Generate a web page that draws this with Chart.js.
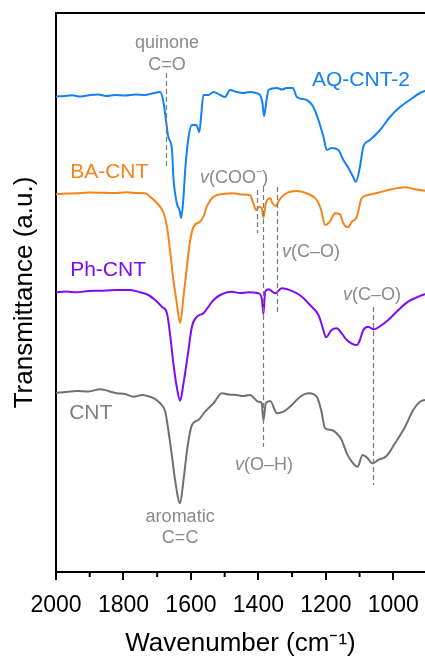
<!DOCTYPE html>
<html>
<head>
<meta charset="utf-8">
<script src="https://cdn.jsdelivr.net/npm/chart.js@4.4.0/dist/chart.umd.min.js"></script>
<style>
html,body{margin:0;padding:0;background:#fff;overflow:hidden}
canvas{display:block}
</style>
</head>
<body>
<canvas id="ftir" width="425" height="662"></canvas>
<script>
// FTIR spectra, offset traces. wavenumber (cm-1) / transmittance (a.u.)
const aqWn = [2000,1975,1952,1928,1898,1875,1851,1824,1795,1765,1736,1715,1691,1681,1673,1667,1656,1652,1642,1634,1629,1622,1617,1607,1597,1584,1575,1570,1563,1548,1533,1513,1499,1484,1464,1445,1425,1407,1395,1388,1383,1377,1370,1345,1330,1316,1298,1286,1257,1237,1222,1207,1197,1183,1163,1148,1133,1119,1111,1099,1089,1069,1039,1010,980,951,921,906,880,800];
const aqT = [475.5,476,476.7,475.5,477,477.5,476,477,476.5,477.5,477,478.5,480,469,449,435,422,395,369,362,354,375,402,435,447,447,440,455,477,477,480,477,475,482,480,479,480,479,477,469,456,469,482,484,482.5,484,484,475,472,465,452,435,422,424,422,412,404,395,390,405,425,432,442,455,465,472,479,481,483,486];

const baWn = [2000,1970,1938,1904,1869,1830,1790,1759,1736,1721,1701,1681,1671,1661,1652,1642,1632,1622,1612,1602,1592,1573,1563,1553,1533,1504,1474,1448,1425,1415,1407,1398,1390,1385,1378,1365,1358,1348,1338,1321,1286,1252,1227,1214,1202,1188,1173,1158,1148,1135,1123,1108,1094,1074,1045,1005,965,936,906,880,800];
const baT = [377.7,378.5,378.7,379.5,379.3,379,379.7,379,378.7,375.3,369,359,345.3,319,292,269,249,275.3,305.3,332,345.3,350.3,355.3,365.3,375.3,378,378.7,377.5,377,368.7,362,365.3,363.7,354.3,368.7,373.7,368.7,366,372,378,381,378,372,362,347,350.3,358.7,357.7,348.7,344.7,350.3,355.3,373.7,377,379.3,382.7,384.7,382.7,381.3,381,382];

const phWn = [2000,1970,1938,1904,1869,1824,1780,1750,1726,1706,1686,1671,1661,1652,1642,1632,1622,1610,1597,1582,1563,1548,1533,1513,1479,1454,1430,1400,1390,1385,1380,1370,1350,1331,1296,1271,1247,1222,1210,1200,1183,1168,1153,1138,1108,1099,1089,1074,1059,1034,1015,985,956,926,906,880,800];
const phT = [279.7,280.5,279.7,281,281.3,282,282,279.7,277,272,265.3,258.7,235.3,208.7,185.3,171.3,188.7,215.3,245.3,255.3,258.7,265.3,272,277,280.3,279,279.7,278.7,273.7,258,280.3,282.7,278.7,283.7,280.3,275.3,267,257,245.3,234.7,242,243.7,238.7,232,227,232,242,245.3,242.7,247,252,262,270.3,275.3,277.7,279,281];

const cntWn = [2000,1970,1938,1904,1869,1845,1820,1795,1770,1744,1721,1706,1691,1676,1667,1656,1647,1632,1622,1610,1597,1578,1558,1533,1508,1487,1464,1445,1425,1400,1390,1385,1378,1365,1345,1326,1301,1276,1250,1227,1214,1202,1183,1168,1153,1138,1123,1106,1091,1079,1061,1045,1020,995,965,941,921,906,880,800];
const cntT = [179.3,180,181,180.5,182.7,181,178.7,178,175.3,177,175.3,173,168.7,160.3,142,115.3,92,68.7,92,125.3,147,152,160.3,168.7,178.7,177.5,177,176,177,170.3,168.7,151.3,168.7,171,158.7,160.3,167,175.3,178.7,175.3,162,143.7,142,138.7,132,118.7,110.3,105.3,117,114.7,108.7,112,116,128.7,145.3,162,170.3,172,174,177];

const seriesNames = ['AQ-CNT-2', 'BA-CNT', 'Ph-CNT', 'CNT'];
const seriesColors = ['#1480F5', '#F8831A', '#7F0AF5', '#707070'];
const labelColors = ['#1480F5', '#F8831A', '#7F0AF5', '#808080'];
const labelWn = [1241, 1958, 1958, 1961];
const labelT = [492, 400, 302, 159];

const xTicks = [2000, 1800, 1600, 1400, 1200, 1000];
const minorTicks = [1900, 1700, 1500, 1300, 1100];

// peak assignments
const notes = [
  {wn: 1671, t: 529, parts: [['quinone', '']], align: 'center'},
  {wn: 1671, t: 507, parts: [['C=O', '']], align: 'center'},
  {wn: 1472, t: 394, parts: [['v', 'i'], ['(COO', ''], ['−', 'sup'], [')', '']], align: 'center'},
  {wn: 1330, t: 320, parts: [['v', 'i'], ['(C–O)', '']], align: 'left'},
  {wn: 1149, t: 277, parts: [['v', 'i'], ['(C–O)', '']], align: 'left'},
  {wn: 1469, t: 107, parts: [['v', 'i'], ['(O–H)', '']], align: 'left'},
  {wn: 1632, t: 55, parts: [['aromatic', '']], align: 'center'},
  {wn: 1632, t: 34, parts: [['C=C', '']], align: 'center'}
];
const guides = [
  {wn: 1674, from: 499, to: 405},
  {wn: 1405, from: 382, to: 339},
  {wn: 1385, from: 385, to: 125},
  {wn: 1345, from: 385, to: 260},
  {wn: 1061, from: 265, to: 87}
];

const FAM = "'Liberation Sans', Arial, Helvetica, sans-serif";
Chart.defaults.font.family = FAM;

const pairs = (xs, ys) => xs.map((v, i) => ({x: v, y: ys[i]}));
const traces = [pairs(aqWn, aqT), pairs(baWn, baT), pairs(phWn, phT), pairs(cntWn, cntT)];

function drawRich(ctx, x, y, parts, size, color, align) {
  const fontOf = st => st === 'i' ? `italic ${size}px ${FAM}` : st === 'sup' ? `${Math.round(size * 0.6)}px ${FAM}` : `${size}px ${FAM}`;
  let w = 0;
  parts.forEach(([t, st]) => { ctx.font = fontOf(st); w += ctx.measureText(t).width; });
  let cx = align === 'center' ? x - w / 2 : x;
  ctx.fillStyle = color;
  ctx.textBaseline = 'middle';
  ctx.textAlign = 'left';
  parts.forEach(([t, st]) => {
    ctx.font = fontOf(st);
    ctx.fillText(t, cx, st === 'sup' ? y - size * 0.35 : y);
    cx += ctx.measureText(t).width;
  });
}

const decor = {
  id: 'decor',
  afterDraw(chart) {
    const {ctx, chartArea: a, scales: {x, y}} = chart;
    ctx.save();
    ctx.strokeStyle = '#000';
    ctx.lineWidth = 2;
    ctx.beginPath();
    ctx.moveTo(a.left - 1, a.top);
    ctx.lineTo(a.right, a.top);
    ctx.stroke();
    minorTicks.forEach(v => {
      const px = x.getPixelForValue(v);
      ctx.beginPath();
      ctx.moveTo(px, a.bottom);
      ctx.lineTo(px, a.bottom + 5);
      ctx.stroke();
    });

    ctx.strokeStyle = '#7a7a7a';
    ctx.lineWidth = 1.2;
    ctx.setLineDash([5, 3]);
    guides.forEach(g => {
      const px = Math.round(x.getPixelForValue(g.wn)) + 0.5;
      ctx.beginPath();
      ctx.moveTo(px, y.getPixelForValue(g.from));
      ctx.lineTo(px, y.getPixelForValue(g.to));
      ctx.stroke();
    });
    ctx.setLineDash([]);

    notes.forEach(n => drawRich(ctx, x.getPixelForValue(n.wn), y.getPixelForValue(n.t), n.parts, 18, '#8a8a8a', n.align));
    seriesNames.forEach((s, i) => drawRich(ctx, x.getPixelForValue(labelWn[i]), y.getPixelForValue(labelT[i]), [[s, '']], 21, labelColors[i], 'left'));
    ctx.restore();
  }
};

new Chart(document.getElementById('ftir'), {
  type: 'line',
  data: {
    datasets: traces.map((d, i) => ({
      label: seriesNames[i],
      data: d,
      borderColor: seriesColors[i],
      borderWidth: 2,
      pointRadius: 0,
      cubicInterpolationMode: 'monotone',
      fill: false
    }))
  },
  options: {
    animation: false,
    responsive: false,
    devicePixelRatio: 1,
    layout: {padding: {top: 13, right: 0, left: 0, bottom: 0}},
    plugins: {legend: {display: false}, tooltip: {enabled: false}},
    scales: {
      x: {
        type: 'linear', reverse: true, min: 906, max: 2000,
        afterBuildTicks: s => { s.ticks = xTicks.map(v => ({value: v})); },
        afterFit: s => { s.height = 90; s.paddingLeft = 0; s.paddingRight = 0; },
        ticks: {color: '#000', font: {size: 23}, padding: 12, maxRotation: 0, autoSkip: false, callback: v => String(v)},
        grid: {drawOnChartArea: false, color: '#000', lineWidth: 2, tickLength: 8},
        border: {color: '#000', width: 2},
        title: {display: true, text: 'Wavenumber (cm⁻¹)', color: '#000', font: {size: 26}, padding: {top: 0, bottom: 3}}
      },
      y: {
        min: 0, max: 559,
        afterFit: s => { s.width = 56; },
        ticks: {display: false},
        grid: {display: false},
        border: {color: '#000', width: 2},
        title: {display: true, text: 'Transmittance (a.u.)', color: '#000', font: {size: 26}, padding: {top: 9, bottom: 0}}
      }
    }
  },
  plugins: [decor]
});
</script>
</body>
</html>
